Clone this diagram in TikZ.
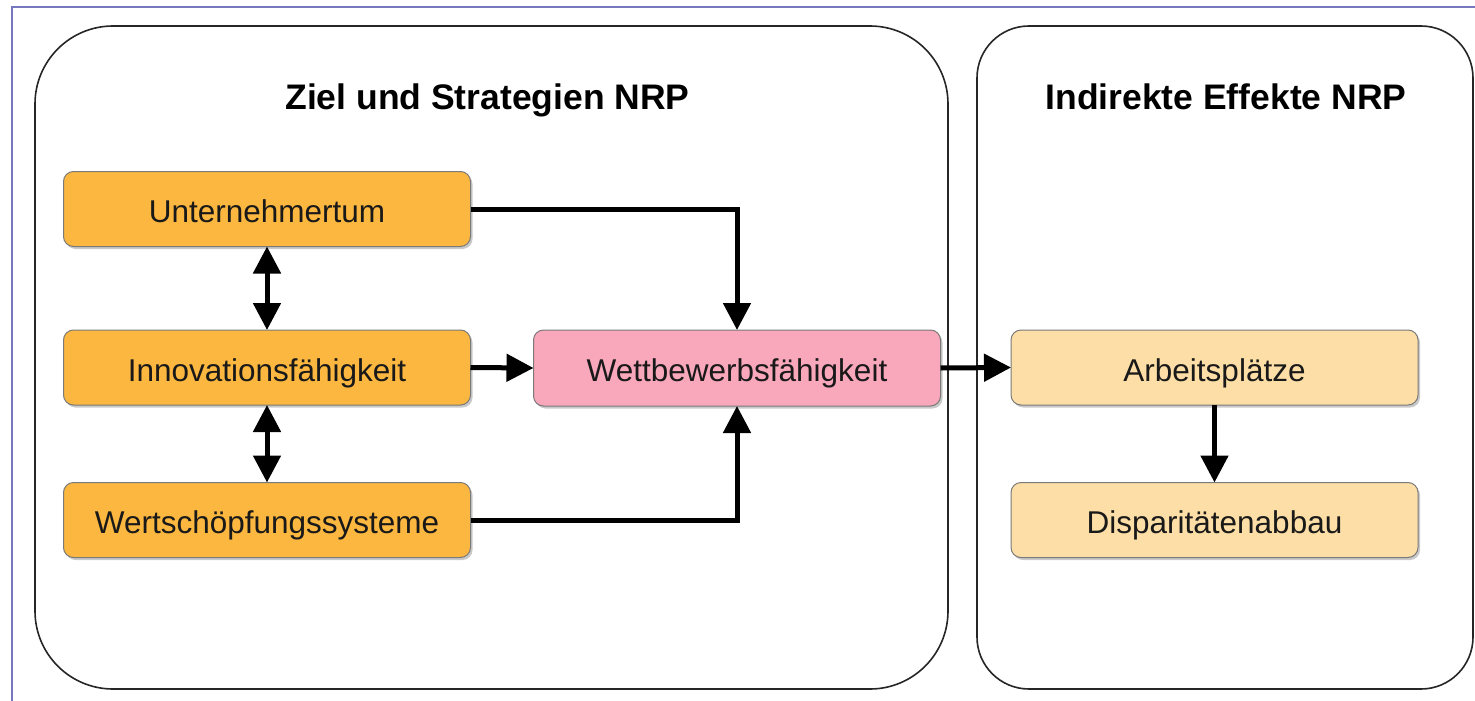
\documentclass[tikz,border=0pt]{standalone}
\usepackage{fontspec}
\setmainfont{Liberation Sans}
\usetikzlibrary{arrows.meta,shadows}
\definecolor{orangebox}{HTML}{FBB73F}
\definecolor{lightbox}{HTML}{FDDEA6}
\definecolor{pinkbox}{HTML}{F9A7BB}
\definecolor{framecol}{HTML}{7878C0}
\definecolor{boxborder}{HTML}{7A7A7A}
\tikzset{
  smallbox/.style={draw=boxborder, line width=1pt, rounded corners=10pt,
    minimum width=407pt, minimum height=75pt, inner sep=0pt, outer sep=0pt,
    text height=27.5pt, text depth=0pt,
    font=\fontsize{31.5}{38}\selectfont, text=black!90,
    drop shadow={shadow xshift=2pt, shadow yshift=-2.5pt, opacity=0.35, fill=black!60}},
  bigbox/.style={draw=black!85, line width=1.6pt},
  titletext/.style={font=\fontsize{35.5}{42}\selectfont\bfseries, anchor=base, inner sep=0pt},
  conn/.style={line width=5pt, -{Triangle[length=27pt,width=27pt]}},
  dconn/.style={line width=5pt, {Triangle[length=27pt,width=27pt]}-{Triangle[length=27pt,width=27pt]}}
}
\begin{document}
\begin{tikzpicture}[x=1pt,y=-1pt]
\useasboundingbox (0,0) rectangle (1475,701);
\fill[white] (0,0) rectangle (1475,701);
% outer frame lines
\draw[framecol, line width=1.2pt] (12,701) -- (12,7) -- (1475,7);
% big boxes
\draw[bigbox, rounded corners=78pt] (35,26) rectangle (948,689);
\draw[bigbox, rounded corners=52pt] (977,26) rectangle (1473,689);
% titles
\node[titletext] (t1) at (487.5,109) {Ziel und Strategien NRP};
\node[titletext] (t2) at (1226,109) {Indirekte Effekte NRP};
% small boxes
\node[smallbox, fill=orangebox] (unt) at (267,209) {Unternehmertum};
\node[smallbox, fill=orangebox] (inn) at (267,367.5) {Innovationsfähigkeit};
\node[smallbox, fill=orangebox] (wert) at (267,520) {Wertschöpfungssysteme};
\node[smallbox, fill=pinkbox, minimum height=76pt] (wett) at (737,368) {Wettbewerbsfähigkeit};
\node[smallbox, fill=lightbox] (arb) at (1214.5,367.5) {Arbeitsplätze};
\node[smallbox, fill=lightbox] (dis) at (1214.5,520) {Disparitätenabbau};
% connectors
\draw[conn] (unt.east) -| (wett.north);
\draw[conn] (wert.east) -| (wett.south);
\draw[conn] (inn.east) -- (wett.west);
\draw[conn] (wett.east) -- (arb.west);
\draw[conn] (arb.south) -- (dis.north);
\draw[dconn] (unt.south) -- (inn.north);
\draw[dconn] (inn.south) -- (wert.north);
\end{tikzpicture}
\end{document}
